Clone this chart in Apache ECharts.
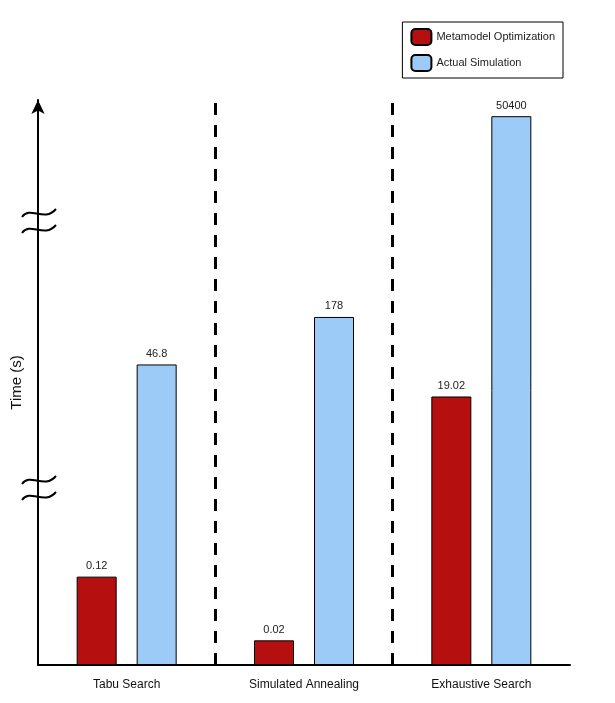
<!DOCTYPE html>
<html><head><meta charset="utf-8">
<script src="https://cdn.jsdelivr.net/npm/echarts@6/dist/echarts.min.js"></script>
<style>html,body{margin:0;background:#fff}#c{width:615px;height:703px}</style>
</head><body><div id="c"></div>
<script>
const categories = ['Tabu Search', 'Simulated Annealing', 'Exhaustive Search'];
const metamodel = [0.12, 0.02, 19.02];
const simulation = [46.8, 178, 50400];

// schematic log scale, floor at 0.01 s
const toLog = (v) => Math.log10(v) + 2;
const chart = echarts.init(document.getElementById('c'));
const lbl = (raw) => ({ show: true, position: 'top', fontSize: 11, color: '#222', fontFamily: 'Liberation Sans',
  formatter: (p) => raw[p.dataIndex] });
// axis-break marks (decoration only)
function brk(y) {
  return [0, 16].map(d => ({
    type: 'bezierCurve', shape: { x1: 22, y1: y + d + 4, cpx1: 30, cpy1: y + d - 8, cpx2: 44, cpy2: y + d + 10, x2: 56, y2: y + d - 4 },
    style: { stroke: '#000', lineWidth: 2, fill: null }
  }));
}
chart.setOption({
  animation: false,
  legend: {
    data: ['Metamodel Optimization', 'Actual Simulation'],
    orient: 'vertical', right: 52, top: 22, itemWidth: 20, itemHeight: 16, itemGap: 8,
    borderColor: '#000', borderWidth: 1, padding: [6, 8, 6, 8],
    textStyle: { fontSize: 11, color: '#222', fontFamily: 'Liberation Sans' }
  },
  grid: { left: 38, right: 45, top: 100, bottom: 38 },
  xAxis: [{
    type: 'category', data: categories,
    axisLine: { lineStyle: { color: '#000', width: 2 } },
    axisTick: { show: false },
    axisLabel: { color: '#111', fontSize: 12, margin: 14, fontFamily: 'Liberation Sans' }
  }, { type: 'value', min: 0, max: 3, show: false }],
  yAxis: {
    type: 'value', min: 0, max: 6.9, name: 'Time (s)', nameLocation: 'middle', nameGap: 14,
    nameTextStyle: { fontSize: 15, color: '#111', fontFamily: 'Liberation Sans' },
    axisLine: { show: true, symbol: ['none', 'arrow'], symbolSize: [10, 14], lineStyle: { color: '#000', width: 2 } },
    axisTick: { show: false }, axisLabel: { show: false }, splitLine: { show: false }
  },
  graphic: [...brk(213), ...brk(480)],
  series: [
    { name: 'Metamodel Optimization', type: 'bar', data: metamodel.map(toLog), barWidth: 40, barGap: '50%',
      itemStyle: { color: '#b50f0f', borderColor: '#000', borderWidth: 1 }, label: lbl(metamodel) },
    { name: 'Actual Simulation', type: 'bar', data: simulation.map(toLog), barWidth: 40,
      itemStyle: { color: '#9dcbf7', borderColor: '#000', borderWidth: 1 }, label: lbl(simulation) },
    { type: 'line', xAxisIndex: 1, data: [], silent: true,
      markLine: { symbol: 'none', label: { show: false },
        lineStyle: { color: '#000', type: [12, 10], width: 3 },
        data: [{ xAxis: 1 }, { xAxis: 2 }] } }
  ]
});
</script></body></html>
